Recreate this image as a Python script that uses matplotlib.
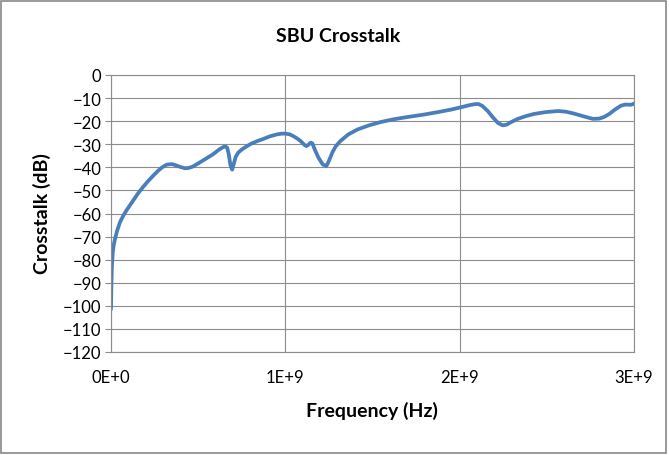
import matplotlib
matplotlib.use("Agg")
import matplotlib.pyplot as plt
from matplotlib.patches import Rectangle

freq_ghz = [0.0, 0.002, 0.005, 0.01, 0.016, 0.023, 0.035, 0.052, 0.07, 0.09, 0.126, 0.155,
            0.184, 0.215, 0.241, 0.27, 0.29, 0.31, 0.322, 0.35, 0.375,
            0.40, 0.425, 0.443, 0.465, 0.48, 0.511, 0.55, 0.586, 0.62, 0.644, 0.658, 0.667,
            0.676, 0.685, 0.695, 0.705, 0.715, 0.73, 0.75, 0.77, 0.80, 0.84, 0.874, 0.91,
            0.954, 0.98, 1.0, 1.025, 1.046, 1.07, 1.09, 1.11, 1.121, 1.133, 1.145, 1.155,
            1.17, 1.19, 1.215, 1.236, 1.25, 1.27, 1.29, 1.316, 1.36, 1.414, 1.48, 1.546,
            1.62, 1.701, 1.79, 1.874, 1.95, 2.006, 2.06, 2.09, 2.109, 2.13, 2.161,
            2.19, 2.22, 2.247, 2.27, 2.29, 2.333, 2.38, 2.425, 2.49, 2.563, 2.61, 2.655,
            2.71, 2.764, 2.80, 2.828, 2.86, 2.89, 2.925, 2.95, 2.983, 3.0]
crosstalk_db = [-101.5, -92, -83, -77, -73.5, -71, -67.5, -63.7, -61, -58.5, -54.5, -51.3,
                -48.5, -45.8, -43.7, -41.5, -40.2, -39.2, -38.8, -38.6, -39.2,
                -39.9, -40.4, -40.3, -39.8, -39.2, -37.8, -36, -34.3, -32.3, -31.2, -31.0, -31.6,
                -34.5, -39.0, -41, -38.3, -35.5, -33.6, -32.3, -31.3, -29.9, -28.6, -27.7, -26.6,
                -25.7, -25.4, -25.4, -25.7, -26.5, -27.6, -28.8, -30.3, -30.8, -30.2, -29.3, -29.6,
                -32.5, -35.8, -38.8, -39.4, -37.2, -33.5, -30.8, -28.6, -25.8, -23.6, -21.8, -20.4,
                -19.2, -18.2, -17.2, -16.1, -15.0, -14.0, -13.0, -12.6, -12.6, -13.4, -15.6,
                -18.3, -20.8, -21.8, -21.5, -20.6, -19.0, -17.8, -16.9, -16.1, -15.6, -15.9, -16.7,
                -17.9, -19.0, -18.9, -18.2, -16.8, -15.0, -13.3, -12.8, -12.9, -12.4]

freq_hz = [f * 1e9 for f in freq_ghz]

x_ticks = [0, 1e9, 2e9, 3e9]
x_tick_labels = ["0E+0", "1E+9", "2E+9", "3E+9"]
y_ticks = list(range(-120, 1, 10))

plt.rcParams['font.family'] = ['Lato', 'DejaVu Sans']

W, H = 669, 456
fig = plt.figure(figsize=(W / 100, H / 100), dpi=100)
ax = fig.add_axes([111 / W, 1 - 353 / H, (634 - 111) / W, (353 - 76) / H])

grid_c = "#8c8c8c"
ax.set_xlim(0, 3e9)
ax.set_ylim(-120, 0)
ax.set_xticks(x_ticks)
ax.set_xticklabels(x_tick_labels)
ax.set_yticks(y_ticks)
ax.grid(True, color=grid_c, linewidth=0.8)
ax.set_axisbelow(True)
for s in ax.spines.values():
    s.set_color(grid_c)
    s.set_linewidth(0.8)
ax.tick_params(axis='y', direction='out', length=4, color=grid_c, labelsize=12, pad=3)
ax.tick_params(axis='x', length=0, labelsize=12, pad=12)

ax.plot(freq_hz, crosstalk_db, color="#4a7ebb", linewidth=2.7, solid_joinstyle='round',
        solid_capstyle='round')

fig.text(338 / W, 1 - 37 / H, "SBU Crosstalk", fontsize=14, fontweight='bold',
         ha='center', va='center')
fig.text(372 / W, 1 - 411 / H, "Frequency (Hz)", fontsize=14, fontweight='bold',
         ha='center', va='center')
fig.text(42 / W, 1 - 214 / H, "Crosstalk (dB)", fontsize=14, fontweight='bold',
         ha='center', va='center', rotation=90)

fig.patches.append(Rectangle((0.002, 0.004), 0.994, 0.992, transform=fig.transFigure,
                             fill=False, edgecolor="#888888", linewidth=1.2))

fig.savefig("out.png", dpi=100)
